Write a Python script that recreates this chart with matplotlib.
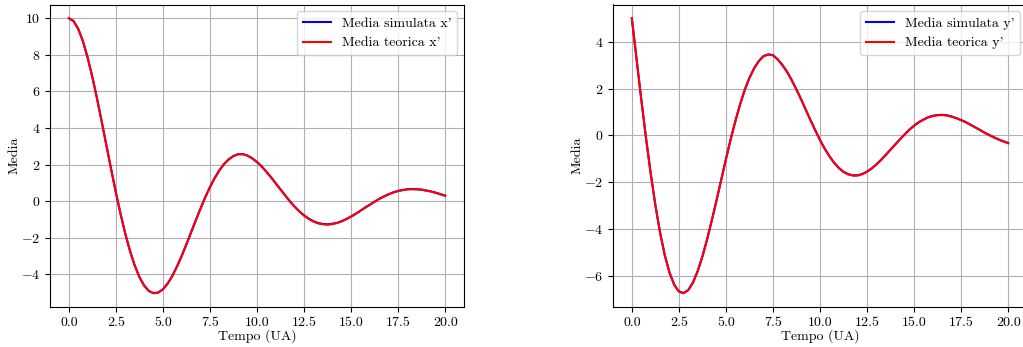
import matplotlib
matplotlib.use("Agg")
import matplotlib.pyplot as plt

plt.rcParams['font.family'] = 'serif'
plt.rcParams['font.serif'] = ['cmr10']
plt.rcParams['mathtext.fontset'] = 'cm'
plt.rcParams['axes.formatter.use_mathtext'] = True
plt.rcParams['axes.unicode_minus'] = True
plt.rcParams['font.size'] = 10

# time axis (UA)
tempo = [0.0, 0.25, 0.5, 0.75, 1.0, 1.25, 1.5, 1.75, 2.0, 2.25, 2.5, 2.75, 3.0, 3.25,
         3.5, 3.75, 4.0, 4.25, 4.5, 4.75, 5.0, 5.25, 5.5, 5.75, 6.0, 6.25, 6.5, 6.75,
         7.0, 7.25, 7.5, 7.75, 8.0, 8.25, 8.5, 8.75, 9.0, 9.25, 9.5, 9.75, 10.0,
         10.25, 10.5, 10.75, 11.0, 11.25, 11.5, 11.75, 12.0, 12.25, 12.5, 12.75,
         13.0, 13.25, 13.5, 13.75, 14.0, 14.25, 14.5, 14.75, 15.0, 15.25, 15.5,
         15.75, 16.0, 16.25, 16.5, 16.75, 17.0, 17.25, 17.5, 17.75, 18.0, 18.25,
         18.5, 18.75, 19.0, 19.25, 19.5, 19.75, 20.0]

# mean of x' (theoretical)
x_teorica = [10.0, 9.85, 9.42, 8.74, 7.84, 6.78, 5.60, 4.33, 3.03, 1.73, 0.47, -0.71,
             -1.79, -2.73, -3.52, -4.16, -4.62, -4.92, -5.04, -5.01, -4.83, -4.52,
             -4.10, -3.58, -3.00, -2.37, -1.71, -1.05, -0.41, 0.20, 0.76, 1.25, 1.68,
             2.02, 2.28, 2.46, 2.56, 2.56, 2.48, 2.33, 2.13, 1.89, 1.60, 1.29, 0.96,
             0.63, 0.30, -0.02, -0.31, -0.57, -0.79, -0.98, -1.12, -1.22, -1.27,
             -1.29, -1.26, -1.20, -1.11, -0.99, -0.85, -0.70, -0.53, -0.36, -0.20,
             -0.04, 0.12, 0.25, 0.37, 0.47, 0.55, 0.60, 0.64, 0.65, 0.64, 0.62, 0.57,
             0.52, 0.45, 0.37, 0.29]
# mean of x' (simulated)
x_simulata = [10.0, 9.85, 9.42, 8.75, 7.85, 6.79, 5.61, 4.34, 3.04, 1.74, 0.48, -0.70,
              -1.78, -2.72, -3.51, -4.15, -4.61, -4.91, -5.03, -5.00, -4.82, -4.51,
              -4.09, -3.57, -2.99, -2.36, -1.70, -1.04, -0.40, 0.21, 0.77, 1.26, 1.69,
              2.03, 2.29, 2.47, 2.57, 2.57, 2.49, 2.34, 2.14, 1.90, 1.61, 1.30, 0.97,
              0.64, 0.31, -0.01, -0.30, -0.56, -0.78, -0.96, -1.10, -1.20, -1.25,
              -1.27, -1.24, -1.19, -1.10, -0.98, -0.84, -0.69, -0.52, -0.35, -0.19,
              -0.03, 0.13, 0.26, 0.38, 0.48, 0.56, 0.61, 0.65, 0.66, 0.65, 0.63, 0.58,
              0.53, 0.46, 0.38, 0.30]

# mean of y' (theoretical)
y_teorica = [5.00, 3.27, 1.55, -0.09, -1.61, -2.97, -4.14, -5.11, -5.85, -6.37, -6.66,
             -6.73, -6.60, -6.28, -5.79, -5.17, -4.44, -3.63, -2.78, -1.90, -1.02,
             -0.18, 0.60, 1.31, 1.94, 2.45, 2.86, 3.17, 3.38, 3.45, 3.42, 3.24, 3.00,
             2.71, 2.35, 1.95, 1.53, 1.08, 0.64, 0.21, -0.20, -0.57, -0.89, -1.17,
             -1.39, -1.56, -1.66, -1.71, -1.71, -1.65, -1.55, -1.41, -1.24, -1.04,
             -0.83, -0.61, -0.39, -0.17, 0.04, 0.24, 0.41, 0.56, 0.67, 0.77, 0.83,
             0.86, 0.87, 0.85, 0.80, 0.73, 0.65, 0.56, 0.45, 0.34, 0.23, 0.11, 0.01,
             -0.09, -0.18, -0.26, -0.33]
# mean of y' (simulated)
y_simulata = [5.00, 3.28, 1.56, -0.08, -1.60, -2.96, -4.13, -5.10, -5.84, -6.36, -6.65,
              -6.72, -6.59, -6.27, -5.78, -5.16, -4.43, -3.62, -2.77, -1.89, -1.01,
              -0.17, 0.61, 1.32, 1.95, 2.46, 2.87, 3.18, 3.39, 3.46, 3.43, 3.25, 3.01,
              2.72, 2.36, 1.96, 1.54, 1.09, 0.65, 0.22, -0.19, -0.56, -0.88, -1.16,
              -1.38, -1.55, -1.65, -1.70, -1.70, -1.64, -1.54, -1.40, -1.23, -1.03,
              -0.82, -0.60, -0.38, -0.16, 0.05, 0.25, 0.42, 0.57, 0.68, 0.78, 0.84,
              0.87, 0.88, 0.86, 0.81, 0.74, 0.66, 0.57, 0.46, 0.35, 0.24, 0.12, 0.02,
              -0.08, -0.17, -0.25, -0.32]

fig = plt.figure(figsize=(10.23, 3.47), dpi=100)
ax1 = fig.add_axes([50 / 1023, 40 / 347, 414 / 1023, 302.5 / 347])
ax2 = fig.add_axes([613 / 1023, 40 / 347, 414 / 1023, 302.5 / 347])

for ax, sim, teo, var in [(ax1, x_simulata, x_teorica, "x'"),
                          (ax2, y_simulata, y_teorica, "y'")]:
    ax.plot(tempo, sim, color='blue', lw=1.5, label='Media simulata ' + var)
    ax.plot(tempo, teo, color='red', lw=1.5, label='Media teorica ' + var)
    ax.grid(True)
    ax.set_xlabel('Tempo (UA)')
    ax.set_ylabel('Media')
    ax.xaxis.set_label_coords(0.5, -0.072)
    ax.yaxis.set_label_coords(-0.07, 0.5)
    ax.set_xticks([0, 2.5, 5, 7.5, 10, 12.5, 15, 17.5, 20])
    ax.set_xticklabels(['0.0', '2.5', '5.0', '7.5', '10.0', '12.5', '15.0', '17.5', '20.0'])
    ax.legend(loc='upper right')

fig.savefig('out.png', dpi=100)
